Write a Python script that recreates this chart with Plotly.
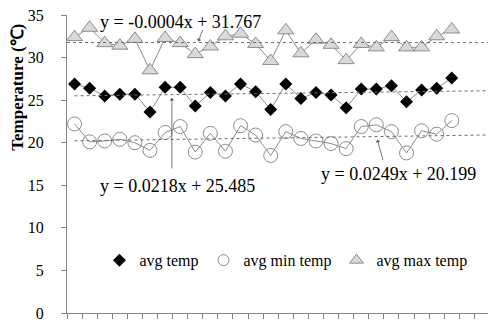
import plotly.graph_objects as go

# Daily temperatures (°C), 26 observation days
days = list(range(1, 27))
avg_temp = [26.9, 26.4, 25.5, 25.7, 25.7, 23.6, 26.5, 26.5, 24.3, 25.9, 25.5, 26.9, 26.0,
            23.9, 26.9, 25.2, 25.9, 25.6, 24.1, 26.3, 26.3, 26.7, 24.8, 26.2, 26.4, 27.6]
avg_min_temp = [22.2, 20.1, 20.2, 20.4, 20.0, 19.1, 21.2, 21.9, 18.9, 21.1, 19.0, 22.0, 20.9,
                18.5, 21.3, 20.5, 20.2, 19.9, 19.3, 21.9, 22.1, 21.3, 18.8, 21.4, 21.0, 22.6]
avg_max_temp = [32.4, 33.5, 31.7, 31.4, 32.2, 28.5, 32.3, 31.7, 30.4, 31.3, 32.5, 32.8, 31.6,
                29.6, 33.2, 30.5, 32.1, 31.5, 29.7, 31.6, 31.2, 32.4, 31.2, 31.2, 32.5, 33.3]

# Linear trend coefficients (slope, intercept)
trend_avg = (0.0218, 25.485)
trend_min = (0.0249, 20.199)
trend_max = (-0.0004, 31.767)

y_ticks = [0, 5, 10, 15, 20, 25, 30, 35]

SERIF = "Liberation Serif"
X_END = 28.4

fig = go.Figure()

line_style = dict(color="#8c8c8c", width=1)

fig.add_trace(go.Scatter(
    x=days, y=avg_temp, mode="lines+markers", name="avg temp",
    line=line_style,
    marker=dict(symbol="diamond", size=10, color="black", line=dict(width=0)),
    showlegend=False))
fig.add_trace(go.Scatter(
    x=days, y=avg_min_temp, mode="lines+markers", name="avg min temp",
    line=line_style,
    marker=dict(symbol="circle-open", size=14, color="#8c8c8c", line=dict(width=1)),
    showlegend=False))
fig.add_trace(go.Scatter(
    x=days, y=avg_max_temp, mode="lines+markers", name="avg max temp",
    line=line_style,
    marker=dict(symbol="triangle-up", size=14, color="#d9d9d9",
                line=dict(color="#8c8c8c", width=1)),
    showlegend=False))

# dotted linear trendlines
def trend(coef, x0, x1):
    m, b = coef
    return [x0, x1], [m * x0 + b, m * x1 + b]

for coef, x0 in [(trend_avg, 1), (trend_min, 1), (trend_max, 0.5)]:
    tx, ty = trend(coef, x0, X_END)
    fig.add_trace(go.Scatter(x=tx, y=ty, mode="lines", showlegend=False,
                             line=dict(color="#6e6e6e", width=1, dash="dot"),
                             hoverinfo="skip"))

# legend entries
fig.add_trace(go.Scatter(x=[None], y=[None], mode="markers", name="avg temp",
                         marker=dict(symbol="diamond", size=10, color="black")))
fig.add_trace(go.Scatter(x=[None], y=[None], mode="markers", name="avg min temp",
                         marker=dict(symbol="circle-open", size=11, color="#8c8c8c",
                                     line=dict(width=1))))
fig.add_trace(go.Scatter(x=[None], y=[None], mode="markers", name="avg max temp",
                         marker=dict(symbol="triangle-up", size=12, color="#d9d9d9",
                                     line=dict(color="#8c8c8c", width=1))))

eq_font = dict(family=SERIF, size=18, color="black")
arrow = dict(showarrow=True, arrowhead=1, arrowsize=1, arrowwidth=0.8,
             arrowcolor="#555555", text="", xref="x", yref="y", axref="pixel", ayref="pixel")

annotations = [
    dict(x=8.0, y=34.2, text="y = -0.0004x + 31.767", showarrow=False, font=eq_font,
         xref="x", yref="y"),
    dict(x=7.8, y=14.9, text="y = 0.0218x + 25.485", showarrow=False, font=eq_font,
         xref="x", yref="y"),
    dict(x=22.5, y=16.3, text="y = 0.0249x + 20.199", showarrow=False, font=eq_font,
         xref="x", yref="y"),
    dict(x=9.2, y=31.9, ax=5, ay=-13, **arrow),
    dict(x=7.45, y=25.25, ax=0, ay=72, **arrow),
    dict(x=21.07, y=20.35, ax=6, ay=22, **arrow),
    dict(x=-0.118, y=0.757, xref="paper", yref="paper", text="<b>Temperature (℃)</b>",
         textangle=-90, showarrow=False, xanchor="center", yanchor="middle",
         font=dict(family=SERIF, size=17, color="black")),
]

fig.update_layout(
    width=488, height=322,
    margin=dict(l=67, r=0, t=15, b=7),
    paper_bgcolor="white", plot_bgcolor="white",
    font=dict(family=SERIF, size=16, color="black"),
    showlegend=True,
    legend=dict(orientation="h", x=0.52, y=0.177, xanchor="center", yanchor="middle",
                font=dict(family=SERIF, size=16, color="black"),
                itemwidth=30, tracegroupgap=0, bgcolor="rgba(0,0,0,0)"),
    annotations=annotations,
)

fig.update_xaxes(range=[0.5, X_END], tickvals=[k + 0.5 for k in range(29)],
                 ticks="outside", ticklen=5, tickcolor="#868686", showticklabels=False,
                 showline=True, linecolor="#868686", linewidth=1, showgrid=False,
                 zeroline=False)
fig.update_yaxes(range=[0, 35], tickvals=y_ticks, ticks="outside", ticklen=5,
                 tickcolor="#868686", showline=True, linecolor="#868686", linewidth=1,
                 showgrid=False, zeroline=False, ticklabelstandoff=14,
                 ticklabeloverflow="allow",
                 tickfont=dict(family=SERIF, size=16, color="black"))

fig.write_html("out.html")
